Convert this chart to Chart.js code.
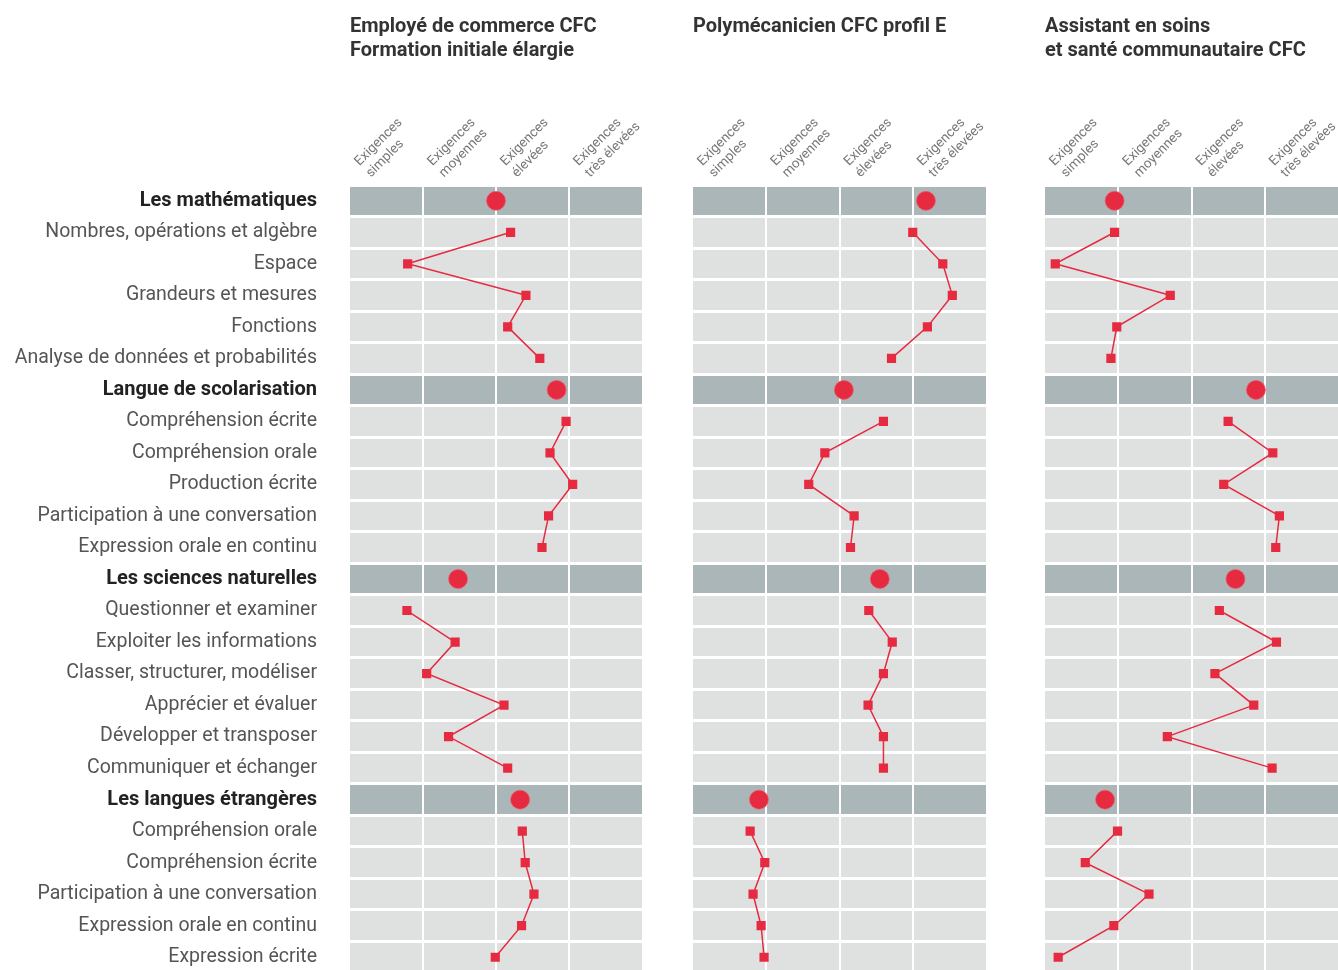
<!DOCTYPE html>
<html lang="fr">
<head>
<meta charset="UTF-8">
<title>Exigences par formation</title>
<script src="https://cdn.jsdelivr.net/npm/chart.js"></script>
<style>
    body { margin: 0; background: #fff; overflow: hidden; width: 1338px; height: 970px; position: relative; font-family: Roboto, "Noto Sans", sans-serif; }
    canvas { position: absolute; top: 0; }
    .title { position: absolute; top: 13px; font-weight: bold; font-size: 20px; line-height: 24px; color: #333; white-space: nowrap; }
</style>
</head>
<body>
<canvas id="c1" width="660" height="980" style="left:0"></canvas>
<canvas id="c2" width="340" height="980" style="left:663px"></canvas>
<canvas id="c3" width="323" height="980" style="left:1015px"></canvas>

<script>
// rows of the grid, top to bottom
const rowLabels = [
    'Les mathématiques',
    'Nombres, opérations et algèbre',
    'Espace',
    'Grandeurs et mesures',
    'Fonctions',
    'Analyse de données et probabilités',
    'Langue de scolarisation',
    'Compréhension écrite',
    'Compréhension orale',
    'Production écrite',
    'Participation à une conversation',
    'Expression orale en continu',
    'Les sciences naturelles',
    'Questionner et examiner',
    'Exploiter les informations',
    'Classer, structurer, modéliser',
    'Apprécier et évaluer',
    'Développer et transposer',
    'Communiquer et échanger',
    'Les langues étrangères',
    'Compréhension orale',
    'Compréhension écrite',
    'Participation à une conversation',
    'Expression orale en continu',
    'Expression écrite'
];
const headerRows = [0, 6, 12, 19];

const levelLabels = [
    ['Exigences', 'simples'],
    ['Exigences', 'moyennes'],
    ['Exigences', 'élevées'],
    ['Exigences', 'très élevées']
];

const panelTitles = [
    ['Employé de commerce CFC', 'Formation initiale élargie'],
    ['Polymécanicien CFC profil E'],
    ['Assistant en soins', 'et santé communautaire CFC']
];

// level reached per row (0 = left edge, 4 = right edge)
const commerce = [2.00, 2.20, 0.79, 2.41, 2.16, 2.60,
                  2.83, 2.96, 2.74, 3.05, 2.72, 2.63,
                  1.48, 0.78, 1.44, 1.05, 2.11, 1.35, 2.16,
                  2.33, 2.36, 2.40, 2.52, 2.35, 1.99];
const polymeca = [3.18, 3.00, 3.41, 3.54, 3.20, 2.71,
                  2.06, 2.60, 1.80, 1.58, 2.20, 2.15,
                  2.55, 2.40, 2.72, 2.60, 2.39, 2.60, 2.60,
                  0.90, 0.78, 0.98, 0.82, 0.93, 0.97];
const assc     = [0.95, 0.95, 0.14, 1.71, 0.98, 0.90,
                  2.88, 2.50, 3.11, 2.44, 3.20, 3.15,
                  2.60, 2.38, 3.16, 2.32, 2.85, 1.67, 3.10,
                  0.82, 0.99, 0.55, 1.42, 0.94, 0.18];

const RED = '#e62a40';
const FONT = 'Roboto, "Noto Sans", sans-serif';
const isHead = i => headerRows.includes(i);

// grey row bands behind the grid
const rowBands = {
    id: 'rowBands',
    beforeDraw(chart) {
        const { ctx, chartArea: a, scales: { y } } = chart;
        const step = y.getPixelForValue(1) - y.getPixelForValue(0);
        ctx.save();
        rowLabels.forEach((_, i) => {
            ctx.fillStyle = isHead(i) ? '#abb6b9' : '#dfe1e1';
            ctx.fillRect(a.left, y.getPixelForValue(i) - step / 2, a.right - a.left, step);
        });
        ctx.restore();
    }
};

function makePanel(id, values, withLabels, padLeft, padRight) {
    new Chart(document.getElementById(id), {
        type: 'line',
        data: {
            labels: rowLabels,
            datasets: [
                {
                    data: values.map((v, i) => isHead(i) ? null : v),
                    borderColor: RED,
                    borderWidth: 1.5,
                    pointStyle: 'rect',
                    pointRadius: 6.5,
                    pointBackgroundColor: RED,
                    pointBorderWidth: 0,
                    spanGaps: false
                },
                {
                    data: values.map((v, i) => isHead(i) ? v : null),
                    showLine: false,
                    pointStyle: 'circle',
                    pointRadius: 9.5,
                    pointBackgroundColor: RED,
                    pointBorderColor: 'rgba(240, 90, 105, 0.7)',
                    pointBorderWidth: 1
                }
            ]
        },
        options: {
            indexAxis: 'y',
            responsive: false,
            animation: false,
            layout: { autoPadding: false, padding: { left: padLeft, right: padRight, top: 0, bottom: 7 } },
            plugins: { legend: { display: false }, tooltip: { enabled: false } },
            scales: {
                x: {
                    type: 'linear',
                    position: 'top',
                    min: 0,
                    max: 4,
                    afterBuildTicks: s => { s.ticks = [0, 1, 2, 3, 4].map(v => ({ value: v })); },
                    afterFit: s => { s.height = 185; s.paddingLeft = 0; s.paddingRight = 0; },
                    grid: {
                        color: c => (c.tick && (c.tick.value === 0 || c.tick.value === 4)) ? 'rgba(0,0,0,0)' : '#fff',
                        lineWidth: 2,
                        drawTicks: false
                    },
                    border: { display: false },
                    ticks: {
                        autoSkip: false,
                        minRotation: 45,
                        maxRotation: 45,
                        padding: 4,
                        labelOffset: 30,
                        color: '#777',
                        font: { family: FONT, size: 13.5 },
                        callback: v => levelLabels[v] || ''
                    }
                },
                y: {
                    type: 'category',
                    offset: true,
                    afterFit: s => { s.width = withLabels ? 350 : 0; s.paddingTop = 0; s.paddingBottom = 0; },
                    grid: { offset: true, color: '#fff', lineWidth: 3, drawTicks: false },
                    border: { display: false },
                    ticks: {
                        display: withLabels,
                        padding: 33,
                        autoSkip: false,
                        color: c => isHead(c.index) ? '#222' : '#555',
                        font: c => isHead(c.index)
                            ? { family: FONT, size: 20, weight: 'bold' }
                            : { family: FONT, size: 19.5, weight: 'normal' }
                    }
                }
            }
        },
        plugins: [rowBands]
    });
}

// panel titles
[350, 693, 1045].forEach((left, i) => {
    const d = document.createElement('div');
    d.className = 'title';
    d.style.left = left + 'px';
    d.innerHTML = panelTitles[i].join('<br>');
    document.body.appendChild(d);
});

makePanel('c1', commerce, true, 0, 18);
makePanel('c2', polymeca, false, 30, 17);
makePanel('c3', assc, false, 30, 0);
</script>
</body>
</html>
